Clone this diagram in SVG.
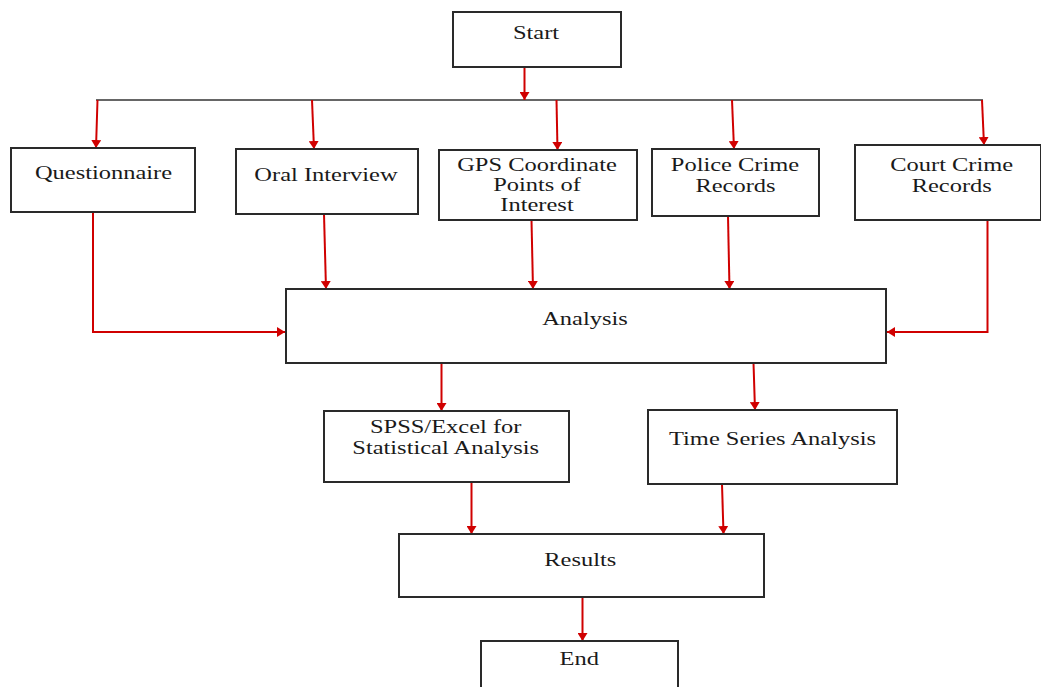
<svg xmlns="http://www.w3.org/2000/svg" width="1041" height="687" viewBox="0 0 1041 687">
<style>
.box{fill:#fff;stroke:#2a2a2a;stroke-width:2}
.lbl{font-family:"Liberation Serif","Times New Roman",serif;font-size:18px;fill:#1a1a1a;text-anchor:middle}
.red{fill:none;stroke:#d00000;stroke-width:2}
.redA{fill:none;stroke:#d00000;stroke-width:2;marker-end:url(#ah)}
.blk{fill:none;stroke:#333;stroke-width:1.5}
</style>
<defs>
<marker id="ah" markerUnits="userSpaceOnUse" viewBox="0 0 8 10" markerWidth="8" markerHeight="10" refX="8" refY="5" orient="auto">
<path d="M0,0 L8,5 L0,10 z" fill="#d00000"/>
</marker>
</defs>
<rect width="1041" height="687" fill="#fff"/>
<g id="connectors">
<line class="blk" x1="96" y1="100" x2="983" y2="100"/>
<line class="redA" x1="524.5" y1="67" x2="524.5" y2="100"/>
<line class="redA" x1="97.5" y1="100" x2="96" y2="148"/>
<line class="redA" x1="312" y1="100" x2="314" y2="149"/>
<line class="redA" x1="556.5" y1="100" x2="557.5" y2="150"/>
<line class="redA" x1="732" y1="100" x2="734" y2="149"/>
<line class="redA" x1="982" y1="100" x2="984" y2="145"/>
<polyline class="redA" points="93,212 93,332 285,332"/>
<line class="red" x1="93" y1="212" x2="147" y2="212"/>
<line class="redA" x1="324" y1="214" x2="326" y2="289"/>
<line class="redA" x1="531.5" y1="220" x2="533" y2="289"/>
<line class="redA" x1="728" y1="216" x2="729.5" y2="289"/>
<polyline class="redA" points="987.5,220 987.5,332 887,332"/>
<line class="red" x1="987.5" y1="220" x2="1010" y2="220"/>
<line class="redA" x1="441.5" y1="363" x2="441.5" y2="411"/>
<line class="redA" x1="753.5" y1="363" x2="755" y2="410"/>
<line class="redA" x1="471.5" y1="482" x2="471.5" y2="534"/>
<line class="redA" x1="722" y1="484" x2="723.5" y2="534"/>
<line class="redA" x1="582.5" y1="597" x2="582.5" y2="641"/>
</g>
<g id="start">
<rect class="box" x="453" y="12" width="168" height="55"/>
<text class="lbl" transform="translate(536,39) scale(1.36,1)">Start</text>
</g>
<g id="questionnaire">
<rect class="box" x="11" y="148" width="184" height="64"/>
<text class="lbl" transform="translate(103.5,179) scale(1.36,1)">Questionnaire</text>
</g>
<g id="oral-interview">
<rect class="box" x="236" y="149" width="182" height="65"/>
<text class="lbl" transform="translate(326,181) scale(1.36,1)">Oral Interview</text>
</g>
<g id="gps">
<rect class="box" x="439" y="150" width="198" height="70"/>
<text class="lbl" transform="translate(537,171) scale(1.36,1)">GPS Coordinate</text>
<text class="lbl" transform="translate(537,191) scale(1.36,1)">Points of</text>
<text class="lbl" transform="translate(537,211) scale(1.36,1)">Interest</text>
</g>
<g id="police">
<rect class="box" x="652" y="149" width="167" height="67"/>
<text class="lbl" transform="translate(735,171) scale(1.36,1)">Police Crime</text>
<text class="lbl" transform="translate(735.5,192) scale(1.36,1)">Records</text>
</g>
<g id="court">
<rect class="box" x="855" y="145" width="186" height="75"/>
<text class="lbl" transform="translate(951.7,171) scale(1.36,1)">Court Crime</text>
<text class="lbl" transform="translate(951.7,192) scale(1.36,1)">Records</text>
</g>
<g id="analysis">
<rect class="box" x="286" y="289" width="600" height="74"/>
<text class="lbl" transform="translate(585,325) scale(1.36,1)">Analysis</text>
</g>
<g id="spss">
<rect class="box" x="324" y="411" width="245" height="71"/>
<text class="lbl" transform="translate(445.7,433) scale(1.36,1)">SPSS/Excel for</text>
<text class="lbl" transform="translate(445.7,454) scale(1.36,1)">Statistical Analysis</text>
</g>
<g id="time-series">
<rect class="box" x="648" y="410" width="249" height="74"/>
<text class="lbl" transform="translate(772.5,445) scale(1.36,1)">Time Series Analysis</text>
</g>
<g id="results">
<rect class="box" x="399" y="534" width="365" height="63"/>
<text class="lbl" transform="translate(580.3,566) scale(1.36,1)">Results</text>
</g>
<g id="end">
<rect class="box" x="481" y="641" width="197" height="60"/>
<text class="lbl" transform="translate(579.3,665) scale(1.36,1)">End</text>
</g>
</svg>
